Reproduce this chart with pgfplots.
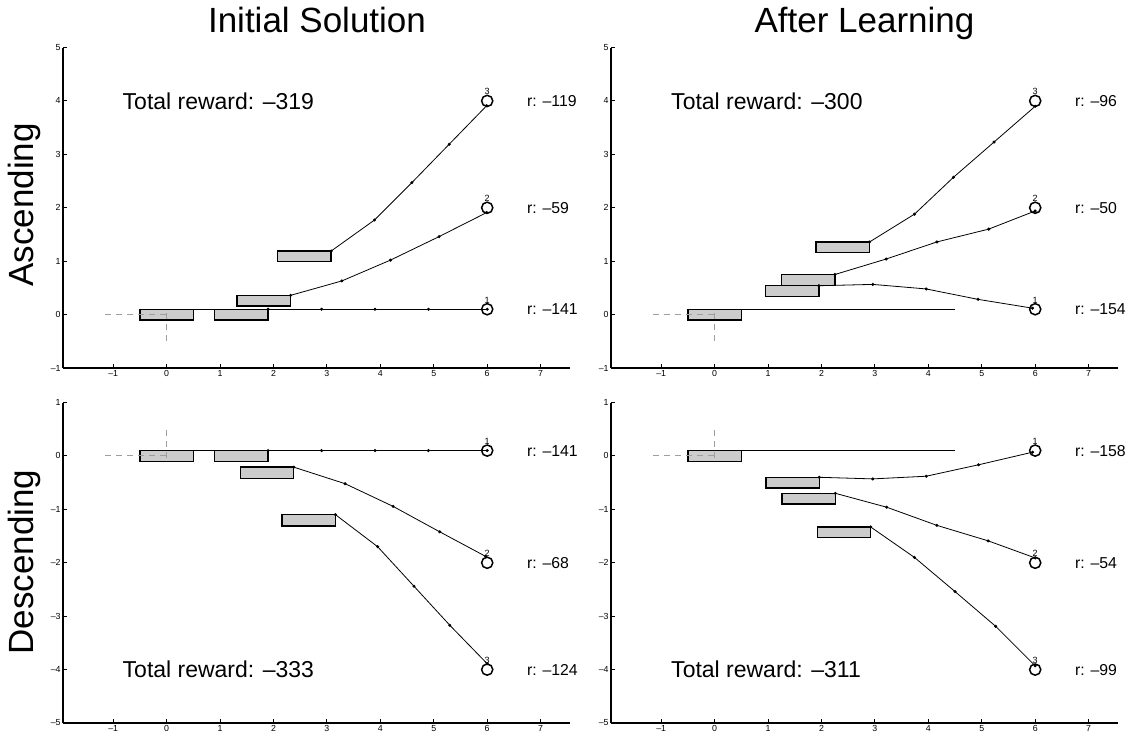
\documentclass[border=0pt]{standalone}
\usepackage{pgfplots}
\pgfplotsset{compat=1.18}
\usepackage{fontspec}
\setmainfont{Liberation Sans}
\definecolor{barfill}{gray}{0.8}
\definecolor{dashgray}{gray}{0.62}
\tikzset{
 rect/.style={fill=barfill, draw=black, line width=0.7pt, line join=miter},
 traj/.style={black, line width=0.4pt, mark=*, mark size=0.55pt},
 refl/.style={black, line width=0.45pt},
 goal/.style={only marks, mark=o, mark size=2.8pt, line width=0.75pt, black},
 dsh/.style={dashgray, line width=0.5pt, dash pattern=on 3pt off 2.5pt},
 big/.style={font=\fontsize{11.5}{12}\selectfont, anchor=west, inner sep=0pt},
 rlab/.style={font=\fontsize{7.9}{8}\selectfont, anchor=west, inner sep=0pt},
 nlab/.style={font=\fontsize{4.5}{5}\selectfont, anchor=south, inner sep=0pt, yshift=2.9pt},
 head/.style={font=\fontsize{17.5}{18}\selectfont, anchor=base, inner sep=0pt},
}
\pgfplotsset{
 panel/.style={
  scale only axis, width=253.5pt, height=160.25pt,
  xmin=-1.94, xmax=7.55,
  axis x line=bottom, axis y line=left,
  axis line style={-, line width=0.6pt},
  tick align=inside, major tick length=1.8pt,
  tick style={black, line width=0.5pt},
  xtick={-1,0,1,2,3,4,5,6,7},
  xticklabels={–1,0,1,2,3,4,5,6,7},
  ticklabel style={font=\fontsize{4.4}{5}\selectfont, inner sep=1pt},
  clip=false,
 },
 toprow/.style={panel, ymin=-1, ymax=5, ytick={-1,0,1,2,3,4,5}, yticklabels={–1,0,1,2,3,4,5}},
 botrow/.style={panel, ymin=-5, ymax=1, ytick={-5,-4,-3,-2,-1,0,1}, yticklabels={–5,–4,–3,–2,–1,0,1}},
}
\begin{document}
\begin{tikzpicture}
\path (0pt,0pt) rectangle (567.5pt,-371pt);
\node[head] at (158.5pt,-16.2pt) {Initial Solution};
\node[head] at (432.25pt,-16.2pt) {After Learning};
\node[head, rotate=90] at (16.5pt,-102.5pt) {Ascending};
\node[head, rotate=90] at (16.5pt,-281pt) {Descending};

% ---------- Top left: Ascending, Initial Solution
\begin{axis}[toprow, at={(31.5pt,-184pt)}, anchor=south west]
\addplot[rect] coordinates {(-0.5,-0.1) (0.5,-0.1) (0.5,0.1) (-0.5,0.1)} --cycle;
\addplot[rect] coordinates {(0.9,-0.1) (1.9,-0.1) (1.9,0.1) (0.9,0.1)} --cycle;
\addplot[rect] coordinates {(1.32,0.16) (2.32,0.16) (2.32,0.36) (1.32,0.36)} --cycle;
\addplot[rect] coordinates {(2.08,0.99) (3.08,0.99) (3.08,1.19) (2.08,1.19)} --cycle;
\addplot[refl] coordinates {(0.5,0.1) (4.5,0.1)};
\addplot[traj] coordinates {(1.9,0.1) (2.9,0.1) (3.9,0.1) (4.9,0.1) (6,0.1)};
\addplot[traj] coordinates {(2.32,0.36) (3.28,0.63) (4.19,1.02) (5.10,1.46) (5.99,1.91)};
\addplot[traj] coordinates {(3.08,1.19) (3.89,1.77) (4.59,2.47) (5.29,3.19) (5.99,3.91)};
\addplot[goal] coordinates {(6,0.1) (6,2) (6,4)};
\addplot[dsh] coordinates {(-1.15,0) (0,0)};
\addplot[dsh] coordinates {(0,0.03) (0,-0.52)};
\node[nlab] at (axis cs:6,0.1) {1};
\node[nlab] at (axis cs:6,2) {2};
\node[nlab] at (axis cs:6,4) {3};
\node[big] at (axis cs:-0.83,4) {Total reward: –319};
\node[rlab] at (axis cs:6.74,4) {r: –119};
\node[rlab] at (axis cs:6.74,2) {r: –59};
\node[rlab] at (axis cs:6.74,0.1) {r: –141};
\end{axis}

% ---------- Top right: Ascending, After Learning
\begin{axis}[toprow, at={(305.5pt,-184pt)}, anchor=south west]
\addplot[rect] coordinates {(-0.5,-0.1) (0.5,-0.1) (0.5,0.1) (-0.5,0.1)} --cycle;
\addplot[rect] coordinates {(0.95,0.34) (1.95,0.34) (1.95,0.54) (0.95,0.54)} --cycle;
\addplot[rect] coordinates {(1.25,0.55) (2.25,0.55) (2.25,0.75) (1.25,0.75)} --cycle;
\addplot[rect] coordinates {(1.9,1.16) (2.9,1.16) (2.9,1.36) (1.9,1.36)} --cycle;
\addplot[refl] coordinates {(0.5,0.1) (4.5,0.1)};
\addplot[traj] coordinates {(1.95,0.54) (2.96,0.565) (3.96,0.48) (4.93,0.285) (5.95,0.12)};
\addplot[traj] coordinates {(2.25,0.75) (3.21,1.04) (4.16,1.36) (5.13,1.60) (6.0,1.94)};
\addplot[traj] coordinates {(2.9,1.36) (3.74,1.88) (4.47,2.57) (5.23,3.23) (6.0,3.9)};
\addplot[goal] coordinates {(6,0.1) (6,2) (6,4)};
\addplot[dsh] coordinates {(-1.15,0) (0,0)};
\addplot[dsh] coordinates {(0,0.03) (0,-0.52)};
\node[nlab] at (axis cs:6,0.1) {1};
\node[nlab] at (axis cs:6,2) {2};
\node[nlab] at (axis cs:6,4) {3};
\node[big] at (axis cs:-0.82,4) {Total reward: –300};
\node[rlab] at (axis cs:6.74,4) {r: –96};
\node[rlab] at (axis cs:6.74,2) {r: –50};
\node[rlab] at (axis cs:6.74,0.1) {r: –154};
\end{axis}

% ---------- Bottom left: Descending, Initial Solution
\begin{axis}[botrow, at={(31.5pt,-361.5pt)}, anchor=south west]
\addplot[rect] coordinates {(-0.5,-0.1) (0.5,-0.1) (0.5,0.1) (-0.5,0.1)} --cycle;
\addplot[rect] coordinates {(0.9,-0.1) (1.9,-0.1) (1.9,0.1) (0.9,0.1)} --cycle;
\addplot[rect] coordinates {(1.38,-0.42) (2.38,-0.42) (2.38,-0.21) (1.38,-0.21)} --cycle;
\addplot[rect] coordinates {(2.16,-1.31) (3.16,-1.31) (3.16,-1.10) (2.16,-1.10)} --cycle;
\addplot[refl] coordinates {(0.5,0.1) (4.5,0.1)};
\addplot[traj] coordinates {(1.9,0.1) (2.9,0.1) (3.9,0.1) (4.9,0.1) (6,0.1)};
\addplot[traj] coordinates {(2.38,-0.21) (3.34,-0.52) (4.24,-0.945) (5.11,-1.42) (5.97,-1.88)};
\addplot[traj] coordinates {(3.16,-1.10) (3.95,-1.70) (4.63,-2.44) (5.30,-3.17) (6.0,-3.89)};
\addplot[goal] coordinates {(6,0.1) (6,-2) (6,-4)};
\addplot[dsh] coordinates {(-1.15,0) (0,0)};
\addplot[dsh] coordinates {(0,-0.03) (0,0.56)};
\node[nlab] at (axis cs:6,0.1) {1};
\node[nlab] at (axis cs:6,-2) {2};
\node[nlab] at (axis cs:6,-4) {3};
\node[big] at (axis cs:-0.83,-4) {Total reward: –333};
\node[rlab] at (axis cs:6.74,0.1) {r: –141};
\node[rlab] at (axis cs:6.74,-2) {r: –68};
\node[rlab] at (axis cs:6.74,-4) {r: –124};
\end{axis}

% ---------- Bottom right: Descending, After Learning
\begin{axis}[botrow, at={(305.5pt,-361.5pt)}, anchor=south west]
\addplot[rect] coordinates {(-0.5,-0.1) (0.5,-0.1) (0.5,0.1) (-0.5,0.1)} --cycle;
\addplot[rect] coordinates {(0.96,-0.6) (1.96,-0.6) (1.96,-0.4) (0.96,-0.4)} --cycle;
\addplot[rect] coordinates {(1.26,-0.9) (2.26,-0.9) (2.26,-0.7) (1.26,-0.7)} --cycle;
\addplot[rect] coordinates {(1.92,-1.53) (2.92,-1.53) (2.92,-1.33) (1.92,-1.33)} --cycle;
\addplot[refl] coordinates {(0.5,0.1) (4.5,0.1)};
\addplot[traj] coordinates {(1.96,-0.4) (2.96,-0.43) (3.96,-0.38) (4.94,-0.166) (5.95,0.07)};
\addplot[traj] coordinates {(2.26,-0.7) (3.22,-0.96) (4.16,-1.30) (5.12,-1.59) (6.0,-1.91)};
\addplot[traj] coordinates {(2.92,-1.33) (3.74,-1.90) (4.5,-2.54) (5.26,-3.19) (6.0,-3.93)};
\addplot[goal] coordinates {(6,0.1) (6,-2) (6,-4)};
\addplot[dsh] coordinates {(-1.15,0) (0,0)};
\addplot[dsh] coordinates {(0,-0.03) (0,0.56)};
\node[nlab] at (axis cs:6,0.1) {1};
\node[nlab] at (axis cs:6,-2) {2};
\node[nlab] at (axis cs:6,-4) {3};
\node[big] at (axis cs:-0.82,-4) {Total reward: –311};
\node[rlab] at (axis cs:6.74,0.1) {r: –158};
\node[rlab] at (axis cs:6.74,-2) {r: –54};
\node[rlab] at (axis cs:6.74,-4) {r: –99};
\end{axis}
\end{tikzpicture}
\end{document}
